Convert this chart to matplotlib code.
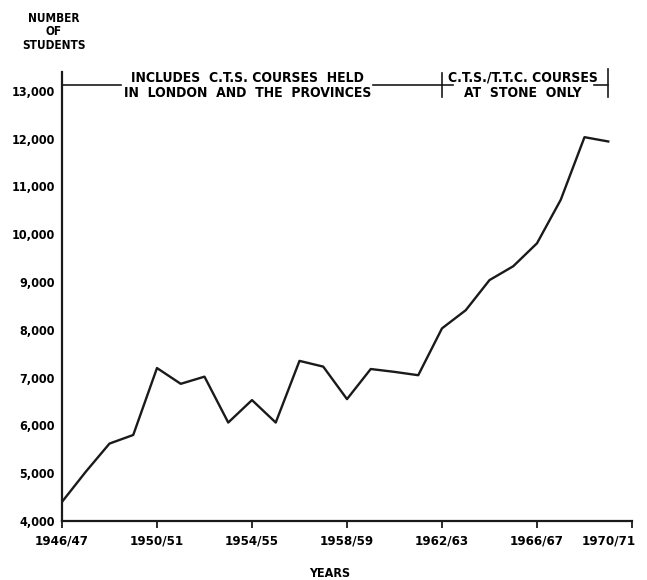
import matplotlib
matplotlib.use("Agg")
import matplotlib.pyplot as plt
import matplotlib.transforms as mtransforms

# student numbers per academic year
years = list(range(1946, 1970))
students = [4400, 5030, 5620, 5800, 7200, 6870, 7020, 6060, 6530, 6060,
            7350, 7230, 6550, 7180, 7120, 7050, 8030, 8410, 9040, 9330,
            9810, 10720, 12030, 11940]

tick_years = [1946, 1950, 1954, 1958, 1962, 1966, 1970]
tick_labels = ["1946/47", "1950/51", "1954/55", "1958/59", "1962/63", "1966/67", "1970/71"]
y_ticks = [4000, 5000, 6000, 7000, 8000, 9000, 10000, 11000, 12000, 13000]
y_labels = ["4,000", "5,000", "6,000", "7,000", "8,000", "9,000", "10,000", "11,000", "12,000", "13,000"]

plt.rcParams['font.family'] = ['DejaVu Sans']
plt.rcParams['font.weight'] = 'bold'
plt.rcParams['font.stretch'] = 'condensed'

fig = plt.figure(figsize=(6.47, 5.80), dpi=100)
ax = fig.add_axes([0.0958, 0.1017, 0.881, 0.7747])

ax.plot(years, students, color='#1a1a1a', lw=1.7)

ax.set_xlim(1946, 1970)
ax.set_ylim(4000, 13400)
ax.set_xticks(tick_years)
ax.set_xticklabels(tick_labels, fontsize=9.5, fontweight='bold')
ax.set_yticks(y_ticks)
ax.set_yticklabels(y_labels, fontsize=9, fontweight='bold')
ax.tick_params(axis='x', direction='out', length=5, width=1.3, pad=5, color='#1a1a1a')
ax.tick_params(axis='y', length=0, pad=5)
for s in ['top', 'right']:
    ax.spines[s].set_visible(False)
for s in ['left', 'bottom']:
    ax.spines[s].set_linewidth(1.6)
    ax.spines[s].set_color('#1a1a1a')

# last year label sits left of its tick, as in the original
last = ax.get_xticklabels()[-1]
last.set_horizontalalignment('right')
last.set_transform(last.get_transform() + mtransforms.ScaledTranslation(4 / 100, 0, fig.dpi_scale_trans))

# bracket annotations along the top
yb = 13120
kw = dict(color='#1a1a1a', lw=1.2, clip_on=False)
ax.plot([1946, 1948.5], [yb, yb], **kw)
ax.plot([1959.1, 1962], [yb, yb], **kw)
ax.plot([1962, 1962.45], [yb, yb], **kw)
ax.plot([1962, 1962], [yb - 250, yb + 250], **kw)
ax.plot([1968.4, 1969.0], [yb, yb], **kw)
ax.plot([1969.0, 1969.0], [yb - 250, yb + 330], **kw)

ax.text(1953.8, yb, "INCLUDES  C.T.S. COURSES  HELD\nIN  LONDON  AND  THE  PROVINCES",
        ha='center', va='center', fontsize=10, fontweight='bold', linespacing=1.1)
ax.text(1965.4, yb, "C.T.S./T.T.C. COURSES\nAT  STONE  ONLY",
        ha='center', va='center', fontsize=10, fontweight='bold', linespacing=1.1)

fig.text(0.083, 0.945, "NUMBER\nOF\nSTUDENTS", ha='center', va='center',
         fontsize=8.5, fontweight='bold', linespacing=1.05)
fig.text(0.51, 0.011, "YEARS", ha='center', va='center', fontsize=9, fontweight='bold')

fig.savefig("out.png", dpi=100)
